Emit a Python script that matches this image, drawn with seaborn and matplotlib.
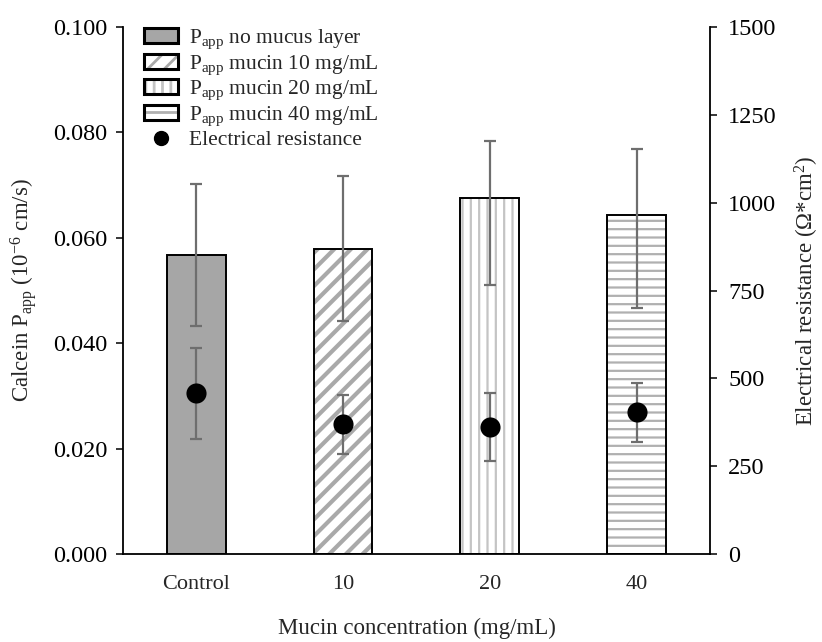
import numpy as np
import pandas as pd
import matplotlib
matplotlib.use("Agg")
import matplotlib.pyplot as plt
import seaborn as sns
from matplotlib.patches import Patch
from matplotlib.lines import Line2D
from matplotlib.colors import to_rgba
from matplotlib.ticker import FormatStrFormatter

# ---------------- data ----------------
categories = ["Control", "10", "20", "40"]
papp_mean = [0.0567, 0.0579, 0.0675, 0.0644]
papp_err_low = [0.0134, 0.0136, 0.0164, 0.0178]
papp_err_high = [0.0135, 0.0139, 0.0109, 0.0125]
resist_mean = [457, 369, 362, 403]
resist_err = [130, 84, 96, 83]
legend_labels = [
    r"P$_{\mathrm{app}}$ no mucus layer",
    r"P$_{\mathrm{app}}$ mucin 10 mg/mL",
    r"P$_{\mathrm{app}}$ mucin 20 mg/mL",
    r"P$_{\mathrm{app}}$ mucin 40 mg/mL",
    "Electrical resistance",
]

# ---------------- style ----------------
fill_colors = ["#a6a6a6", "#ffffff", "#ffffff", "#ffffff"]
hatches = ["", "//", "||", "--"]
hatch_colors = ["#a6a6a6", "#a9a9a9", "#c4c4c4", "#b0b0b0"]
hatch_lws = [1.0, 3.0, 1.6, 1.6]
err_color = "#6e6e6e"

sns.set_style("ticks")
plt.rcParams["font.family"] = ["Liberation Serif", "DejaVu Serif"]
plt.rcParams["mathtext.fontset"] = "custom"
plt.rcParams["mathtext.rm"] = "Liberation Serif"
plt.rcParams["mathtext.it"] = "Liberation Serif:italic"
plt.rcParams["mathtext.bf"] = "Liberation Serif:bold"
plt.rcParams["hatch.linewidth"] = 2.0

fig = plt.figure(figsize=(8.22, 6.42), dpi=100)
ax = fig.add_axes([0.1496, 0.137, 0.7141, 0.821])

df = pd.DataFrame({"cat": categories, "papp": papp_mean})

# layer 1: fill + hatch
sns.barplot(data=df, x="cat", y="papp", hue="cat", palette=fill_colors,
            legend=False, width=0.4, errorbar=None, linewidth=0, ax=ax,
            saturation=1)
for p, h, hc, hl in zip(ax.patches, hatches, hatch_colors, hatch_lws):
    p.set_hatch(h)
    p.set_edgecolor(hc)
    p.set_linewidth(0)
    if hasattr(p, "set_hatch_linewidth"):
        p.set_hatch_linewidth(hl)

# layer 2: black outlines
sns.barplot(data=df, x="cat", y="papp", width=0.4, errorbar=None,
            facecolor="none", edgecolor="black", linewidth=1.4, ax=ax)

xpos = np.arange(len(categories))
ax.errorbar(xpos, papp_mean, yerr=[papp_err_low, papp_err_high], fmt="none",
            ecolor=err_color, elinewidth=1.6, capsize=4.3, capthick=1.6,
            zorder=5)

ax.set_xlim(-0.5, 3.5)
ax.set_ylim(0, 0.1)
ax.set_yticks(np.arange(0, 0.1001, 0.02))
ax.yaxis.set_major_formatter(FormatStrFormatter("%.3f"))
ax.set_xlabel("Mucin concentration (mg/mL)", fontsize=16.5, labelpad=17)
ax.set_ylabel(r"Calcein P$_{\mathrm{app}}$ (10$^{-6}$ cm/s)", fontsize=16.5,
              labelpad=10)
ax.tick_params(axis="x", length=0, labelsize=16, pad=15)
ax.tick_params(axis="y", length=5, width=1.1, labelsize=17.5, direction="out",
               colors="black", pad=6)
for s in ["left", "bottom"]:
    ax.spines[s].set_linewidth(1.3)
    ax.spines[s].set_color("black")
ax.spines["top"].set_visible(False)
ax.spines["right"].set_visible(False)

# right axis: electrical resistance
ax2 = ax.twinx()
ax2.errorbar(xpos, resist_mean, yerr=resist_err, fmt="none", ecolor=err_color,
             elinewidth=1.6, capsize=4.3, capthick=1.6, zorder=5)
sns.scatterplot(x=xpos, y=resist_mean, ax=ax2, color="black", s=210,
                edgecolor="black", linewidth=0, zorder=6)
ax2.set_xlim(-0.5, 3.5)
ax2.set_ylim(0, 1500)
ax2.set_yticks(np.arange(0, 1501, 250))
ax2.set_ylabel(r"Electrical resistance ($\Omega$*cm$^{2}$)", fontsize=16.5,
               labelpad=12)
ax2.tick_params(axis="y", length=5, width=1.1, labelsize=17.5, direction="out",
                colors="black", pad=8)
ax2.spines["right"].set_linewidth(1.3)
ax2.spines["right"].set_color("black")
ax2.spines["top"].set_visible(False)
ax2.spines["left"].set_visible(False)
ax2.spines["bottom"].set_visible(False)

# legend
handles = []
for fc, h, hc in zip(fill_colors, hatches, hatch_colors):
    ph = Patch(facecolor=fc, edgecolor="black", hatch=h, linewidth=2.2)
    ph._hatch_color = to_rgba(hc)
    handles.append(ph)
handles.append(Line2D([], [], marker="o", color="black", linestyle="none",
                      markersize=10))
leg = ax.legend(handles, legend_labels, loc="upper left",
                bbox_to_anchor=(0.022, 1.015), frameon=False, fontsize=15.5,
                handlelength=1.55, handleheight=0.7, labelspacing=0.1,
                handletextpad=0.5, borderaxespad=0)
leg.set_zorder(10)

fig.savefig("out.png", dpi=100)
